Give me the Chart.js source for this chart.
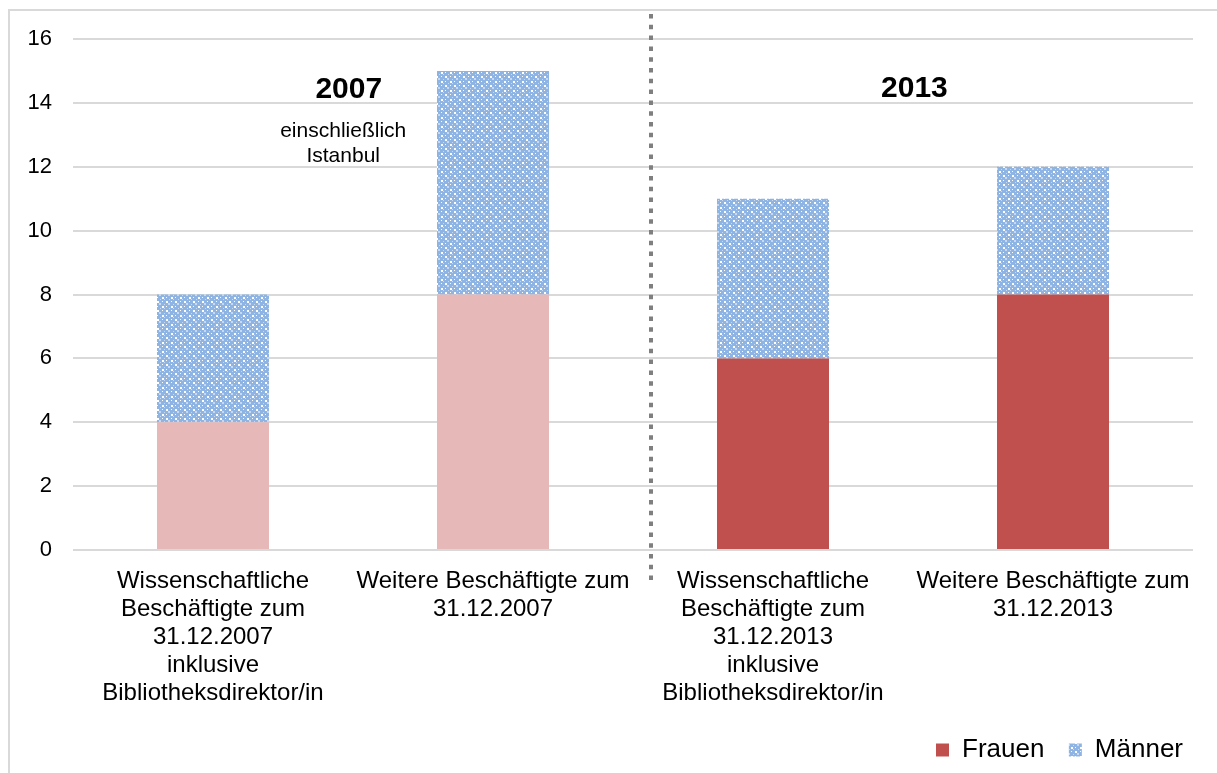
<!DOCTYPE html>
<html lang="de">
  <head>
    <meta charset="UTF-8">
    <title>Beschäftigte 2007 / 2013</title>
    <script src="https://cdn.jsdelivr.net/npm/chart.js@4.4.0/dist/chart.umd.min.js"></script>
    <style>
      html, body { margin: 0; padding: 0; background: #fff; }
      #wrap { position: absolute; left: 0; top: 0; width: 1217px; height: 773px; }
    </style>
  </head>
  <body>
    <div id="wrap"><canvas id="chart"></canvas></div>
    <script type="text/javascript">
      const categories = [
        ['Wissenschaftliche', 'Beschäftigte zum', '31.12.2007', 'inklusive', 'Bibliotheksdirektor/in'],
        ['Weitere Beschäftigte zum', '31.12.2007'],
        ['Wissenschaftliche', 'Beschäftigte zum', '31.12.2013', 'inklusive', 'Bibliotheksdirektor/in'],
        ['Weitere Beschäftigte zum', '31.12.2013']
      ]
      const frauen = [4, 8, 6, 8]
      const maenner = [4, 7, 5, 4]
      const frauenColors = ['#E6B8B7', '#E6B8B7', '#C0504D', '#C0504D']

      // small blue/white tile like the office "plaid" fill
      function makePattern () {
        const c = document.createElement('canvas')
        c.width = 9
        c.height = 9
        const g = c.getContext('2d')
        g.fillStyle = '#8DB4E2'
        g.fillRect(0, 0, 9, 9)
        g.fillStyle = '#ffffff'
        g.fillRect(0, 0, 2, 2)
        g.fillRect(4, 4, 2, 2)
        g.fillRect(0, 4, 1, 1)
        g.fillRect(4, 0, 1, 1)
        g.fillStyle = '#C6D9F1'
        g.fillRect(2, 2, 1, 1)
        g.fillRect(6, 6, 2, 2)
        g.fillRect(7, 2, 1, 1)
        g.fillRect(2, 7, 1, 1)
        return g.createPattern(c, 'repeat')
      }
      const blue = makePattern()

      const font = 'Liberation Sans, Arial, sans-serif'

      const extras = {
        id: 'extras',
        beforeDraw (chart) {
          const ctx = chart.ctx
          ctx.save()
          ctx.fillStyle = '#d9d9d9'
          ctx.fillRect(8, 9, 2, 773)
          ctx.fillRect(8, 9, 1217, 2)
          ctx.restore()
        },
        afterDatasetsDraw (chart) {
          const ctx = chart.ctx
          const x = chart.scales.x
          const y = chart.scales.y
          const a = chart.chartArea
          ctx.save()
          // dotted separator between 2007 and 2013
          const sx = Math.round(x.getPixelForValue(1.565))
          ctx.strokeStyle = '#7f7f7f'
          ctx.lineWidth = 4
          ctx.setLineDash([4.5, 6.3])
          ctx.beginPath()
          ctx.moveTo(sx, a.top - 25)
          ctx.lineTo(sx, a.bottom + 36)
          ctx.stroke()
          ctx.setLineDash([])

          ctx.fillStyle = '#000'
          ctx.textAlign = 'center'
          ctx.textBaseline = 'middle'
          ctx.font = 'bold 30px ' + font
          ctx.fillText('2007', x.getPixelForValue(0.485), y.getPixelForValue(14.4))
          ctx.fillText('2013', x.getPixelForValue(2.505), y.getPixelForValue(14.45))
          ctx.font = '21px ' + font
          ctx.fillText('einschließlich', x.getPixelForValue(0.465), y.getPixelForValue(13.12))
          ctx.fillText('Istanbul', x.getPixelForValue(0.465), y.getPixelForValue(12.32))
          ctx.restore()
        }
      }

      const ctx = document.getElementById('chart').getContext('2d')
      const chart = new Chart(ctx, {
        type: 'bar',
        data: {
          labels: categories,
          datasets: [
            {
              label: 'Frauen',
              data: frauen,
              backgroundColor: frauenColors,
              borderWidth: 0
            },
            {
              label: 'Männer',
              data: maenner,
              backgroundColor: blue,
              borderWidth: 0
            }
          ]
        },
        options: {
          responsive: true,
          maintainAspectRatio: false,
          animation: false,
          datasets: { bar: { barPercentage: 0.4, categoryPercentage: 1 } },
          layout: { padding: { top: 39, right: 24, left: 0, bottom: 0 } },
          scales: {
            x: {
              stacked: true,
              grid: { display: false },
              border: { display: false },
              ticks: {
                color: '#000',
                maxRotation: 0,
                autoSkip: false,
                padding: 9,
                font: { family: font, size: 24, lineHeight: 1.17 }
              },
              afterFit (scale) { scale.height = 177 }
            },
            y: {
              stacked: true,
              min: 0,
              max: 16,
              border: { display: false },
              grid: { color: '#d9d9d9', lineWidth: 2, drawTicks: false },
              ticks: {
                stepSize: 2,
                color: '#000',
                padding: 21,
                font: { family: font, size: 22 }
              },
              afterFit (scale) { scale.width = 73 }
            }
          },
          plugins: {
            tooltip: { enabled: false },
            legend: {
              position: 'bottom',
              align: 'end',
              labels: {
                color: '#000',
                boxWidth: 13,
                boxHeight: 13,
                padding: 10,
                font: { family: font, size: 26 },
                generateLabels () {
                  return [
                    { text: 'Frauen  ', fillStyle: '#C0504D', strokeStyle: '#C0504D', lineWidth: 0, datasetIndex: 0 },
                    { text: 'Männer', fillStyle: blue, strokeStyle: '#8DB4E2', lineWidth: 0, datasetIndex: 1 }
                  ]
                }
              }
            }
          }
        },
        plugins: [extras]
      })
    </script>
  </body>
</html>
